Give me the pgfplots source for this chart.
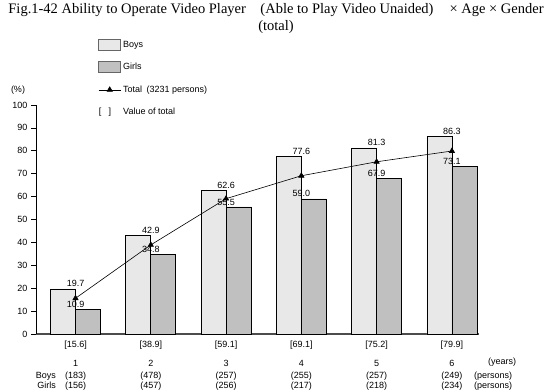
\documentclass[border=0pt]{standalone}
\usepackage{fontspec}
\setmainfont{Liberation Sans}
\newfontfamily\titlefont{Liberation Serif}
\usepackage{pgfplots}
\pgfplotsset{compat=1.18}
\definecolor{boys}{HTML}{E8E8E8}
\definecolor{girls}{HTML}{C0C0C0}
\begin{document}
\begin{tikzpicture}[x=1pt,y=1pt]
\path[use as bounding box] (0pt,0pt) rectangle (552pt,390pt);
\node[font=\titlefont\fontsize{14.5}{17}\selectfont, align=center, anchor=north, inner sep=0pt] at (276pt,387pt)
  {Fig.1-42 Ability to Operate Video Player\hspace{1em}(Able to Play Video Unaided)\hspace{1.1em}× Age × Gender\\(total)};
\begin{axis}[
  at={(36pt,56pt)}, anchor=south west,
  scale only axis, width=443pt, height=229pt,
  xmin=0.475, xmax=6.36, ymin=0, ymax=100,
  axis x line=bottom, axis y line=left,
  axis line style={-},
  x axis line style={line width=1.3pt, color=black!70},
  y axis line style={line width=0.6pt, color=black},
  ytick={0,10,...,100},
  tick align=outside, major tick length=5pt,
  ytick style={line width=0.6pt, black},
  xtick={1,2,3,4,5,6},
  xtick style={draw=none},
  xticklabels={{[15.6]\\[8.5pt]1\\[1.5pt](183)\\(156)},
               {[38.9]\\[8.5pt]2\\[1.5pt](478)\\(457)},
               {[59.1]\\[8.5pt]3\\[1.5pt](257)\\(256)},
               {[69.1]\\[8.5pt]4\\[1.5pt](255)\\(217)},
               {[75.2]\\[8.5pt]5\\[1.5pt](257)\\(218)},
               {[79.9]\\[8.5pt]6\\[1.5pt](249)\\(234)}},
  xticklabel style={align=center, font=\fontsize{9}{10.5}\selectfont, yshift=2pt},
  yticklabel style={font=\fontsize{9}{11}\selectfont},
  /pgf/number format/assume math mode=true,
  legend style={at={(0.14,1.29)}, anchor=north west, draw=none, fill=none,
     font=\fontsize{9}{11}\selectfont, row sep=10.5pt, inner sep=0pt},
  legend cell align=left,
  clip=false,
]
\addplot[ybar, bar width=25pt, bar shift=-12.5pt, fill=boys, draw=black, line width=0.6pt,
  nodes near coords={\pgfmathprintnumber[fixed,precision=1,fixed zerofill]{\pgfplotspointmeta}},
  nodes near coords style={font=\fontsize{9}{11}\selectfont, black, inner sep=1.5pt},
  legend image code/.code={\draw[fill=boys,draw=black!60,line width=1pt] (0pt,-5.5pt) rectangle (22pt,5.5pt);}]
  coordinates {(1,19.7) (2,42.9) (3,62.6) (4,77.6) (5,81.3) (6,86.3)};
\addlegendentry{Boys}
\addplot[ybar, bar width=25pt, bar shift=12.5pt, fill=girls, draw=black, line width=0.6pt,
  nodes near coords={\pgfmathprintnumber[fixed,precision=1,fixed zerofill]{\pgfplotspointmeta}},
  nodes near coords style={font=\fontsize{9}{11}\selectfont, black, inner sep=1.5pt},
  legend image code/.code={\draw[fill=girls,draw=black!60,line width=1pt] (0pt,-5.5pt) rectangle (22pt,5.5pt);}]
  coordinates {(1,10.9) (2,34.8) (3,55.5) (4,59.0) (5,67.9) (6,73.1)};
\addlegendentry{Girls}
\addplot[black, line width=0.6pt, mark=triangle*, mark size=3pt,
  legend image code/.code={\draw[black,line width=0.6pt] (0pt,0pt) -- (22pt,0pt); \fill[black] (11pt,0pt) ++(90:3pt) -- ++(-120:5.2pt) -- ++(0:5.2pt) -- cycle;}]
  coordinates {(1,15.6) (2,38.9) (3,59.1) (4,69.1) (5,75.2) (6,79.9)};
\addlegendentry{Total\enspace(3231 persons)}
\addlegendimage{legend image code/.code={\node[font=\fontsize{9}{11}\selectfont, inner sep=0pt, anchor=west] at (0pt,0pt) {[\hspace{0.8em}]};}}
\addlegendentry{Value of total}
\end{axis}
\node[font=\fontsize{9}{11}\selectfont, inner sep=0pt] at (18pt,300pt) {(\%)};
\node[font=\fontsize{9}{11}\selectfont, inner sep=0pt, anchor=base west] at (488pt,25pt) {(years)};
\node[font=\fontsize{9}{11}\selectfont, inner sep=0pt, anchor=base west] at (474pt,11pt) {(persons)};
\node[font=\fontsize{9}{11}\selectfont, inner sep=0pt, anchor=base west] at (474pt,1pt) {(persons)};
\node[font=\fontsize{9}{11}\selectfont, inner sep=0pt, anchor=base east] at (56pt,11pt) {Boys};
\node[font=\fontsize{9}{11}\selectfont, inner sep=0pt, anchor=base east] at (56pt,1pt) {Girls};
\end{tikzpicture}
\end{document}
